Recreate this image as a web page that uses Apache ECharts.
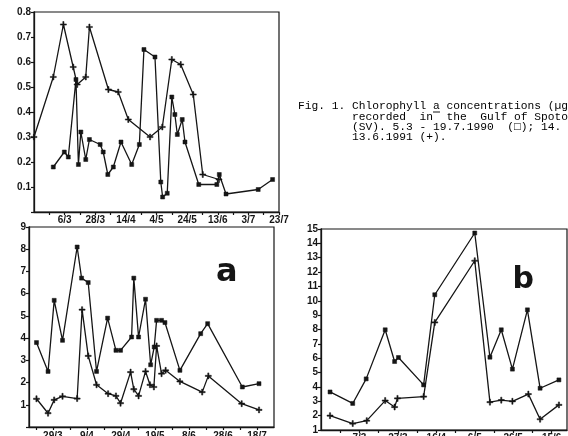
<!DOCTYPE html>
<html>
<head>
<meta charset="utf-8">
<script src="https://cdn.jsdelivr.net/npm/echarts@6/dist/echarts.min.js"></script>
<style>
html,body{margin:0;padding:0;background:#fff;}
#chart{width:568px;height:436px;}
</style>
</head>
<body>
<div id="chart"></div>
<script>
// ---- top panel (chlorophyll a, µg/l) ----
const topTickDays = [65, 85, 105, 125, 145, 165, 185, 205];
const topTickLabels = ['6/3', '28/3', '14/4', '4/5', '24/5', '13/6', '3/7', '23/7'];
const topSqDays = [57.6, 64.8, 67.4, 72.4, 74, 75.6, 78.8, 81.2, 88.2, 90.2, 93.2, 96.8, 101.8, 108.8, 113.8, 116.8, 124, 127.8, 129, 132, 135, 137, 138.6, 141.8, 143.6, 152.6, 164.4, 166, 170.4, 191.4, 200.8];
const topSqChl = [0.18, 0.24, 0.22, 0.53, 0.19, 0.32, 0.21, 0.29, 0.27, 0.24, 0.15, 0.18, 0.28, 0.19, 0.27, 0.65, 0.62, 0.12, 0.06, 0.075, 0.46, 0.39, 0.31, 0.37, 0.28, 0.11, 0.11, 0.15, 0.072, 0.09, 0.13];
const topPlusDays = [45, 57.6, 64.2, 70.6, 73.2, 78.8, 81.2, 93.6, 100, 106.6, 120.8, 128.8, 135, 140.8, 149, 155.2, 165.8];
const topPlusChl = [0.30, 0.54, 0.75, 0.58, 0.51, 0.54, 0.74, 0.49, 0.48, 0.37, 0.30, 0.34, 0.61, 0.59, 0.47, 0.15, 0.13];

// ---- panel a ----
const aTickDays = [79, 99, 119, 139, 159, 179, 199];
const aTickLabels = ['29/3', '9/4', '29/4', '19/5', '8/6', '28/6', '18/7'];
const aSqDays = [69.4, 76.2, 79.8, 84.7, 93.3, 95.9, 99.8, 104.7, 111.2, 116.1, 118.8, 125.3, 126.6, 129.4, 133.5, 136.5, 138.6, 140, 142.9, 144.9, 153.7, 165.9, 170, 190.4, 200.2];
const aSqVal = [3.8, 2.5, 5.7, 3.9, 8.1, 6.7, 6.5, 2.5, 4.9, 3.45, 3.45, 4.05, 6.7, 4.05, 5.75, 2.8, 3.6, 4.8, 4.8, 4.7, 2.55, 4.2, 4.65, 1.8, 1.95];
const aPlusDays = [69.4, 76.2, 79.8, 84.7, 93.3, 96.2, 99.8, 104.7, 111.5, 116.1, 118.8, 124.7, 126.6, 129.4, 133.5, 136.1, 138.4, 140, 142.9, 145.3, 153.7, 166.8, 170.4, 190, 200.2];
const aPlusVal = [1.27, 0.62, 1.22, 1.38, 1.28, 5.28, 3.2, 1.9, 1.5, 1.4, 1.07, 2.47, 1.7, 1.4, 2.5, 1.9, 1.8, 3.65, 2.4, 2.55, 2.05, 1.57, 2.3, 1.05, 0.77];

// ---- panel b ----
const bTickDays = [66, 86, 106, 126, 146, 166];
const bTickLabels = ['7/3', '27/3', '16/4', '6/5', '26/5', '15/6'];
const bSqDays = [50.7, 62.5, 69.5, 79.4, 84.3, 86.3, 99.4, 105.2, 126, 133.9, 139.8, 145.6, 153.4, 160, 169.8];
const bSqVal = [3.65, 2.85, 4.56, 7.98, 5.77, 6.05, 4.14, 10.42, 14.72, 6.07, 7.98, 5.24, 9.37, 3.91, 4.49];
const bPlusDays = [50.7, 62.5, 69.8, 79.4, 84.3, 85.8, 99.4, 105.2, 126, 133.9, 139.8, 145.6, 153.9, 160, 169.8];
const bPlusVal = [2.0, 1.45, 1.65, 3.05, 2.6, 3.2, 3.33, 8.49, 12.79, 2.94, 3.08, 3.0, 3.5, 1.75, 2.75];

const ink = '#151515';
const plusPath = 'path://M4,0h2v4h4v2h-4v4h-2v-4h-4v-2h4z';
const zip = (xs, ys) => xs.map((x, i) => [x, ys[i]]);
const withMid = (ticks) => {
  const out = [];
  ticks.forEach((t) => { out.push(t - 10); out.push(t); });
  return out;
};

function xAxis(gridIndex, min, max, tickDays, tickLabels, margin) {
  return {
    type: 'value', gridIndex, min, max,
    axisLine: { show: true, lineStyle: { color: ink, width: 1.3 } },
    splitLine: { show: false },
    axisTick: { show: true, inside: false, length: 3, customValues: withMid(tickDays).filter(v => v > min && v <= max), lineStyle: { color: ink, width: 1.2 } },
    axisLabel: {
      show: true, margin, customValues: tickDays, color: ink,
      fontSize: 10, fontWeight: 'bold', fontFamily: 'Liberation Sans',
      formatter: (v) => { const i = tickDays.indexOf(v); return i >= 0 ? tickLabels[i] : ''; }
    }
  };
}
function yAxis(gridIndex, min, max, interval, fmt) {
  return {
    type: 'value', gridIndex, min, max, interval,
    axisLine: { show: true, lineStyle: { color: ink, width: 1.3 } },
    splitLine: { show: false },
    axisTick: { show: true, inside: false, length: 3, lineStyle: { color: ink, width: 1.2 } },
    axisLabel: { show: true, margin: 3, color: ink, fontSize: 10, fontWeight: 'bold', fontFamily: 'Liberation Sans', formatter: fmt }
  };
}
function line(xi, data, sym, size) {
  return {
    type: 'line', xAxisIndex: xi, yAxisIndex: xi, data,
    symbol: sym, symbolSize: size, showSymbol: true, showAllSymbol: true,
    lineStyle: { color: ink, width: 1.3 },
    itemStyle: { color: ink, borderColor: ink, borderWidth: 0.5 },
    emphasis: { disabled: true }, animation: false, z: 3
  };
}

const chart = echarts.init(document.getElementById('chart'), null, { renderer: 'canvas' });
const monoFont = '11.25px "Liberation Mono"';
const gridBase = { show: true, borderColor: ink, borderWidth: 1.2, containLabel: false, outerBoundsMode: 'none' };
chart.setOption({
  animation: false,
  backgroundColor: '#fff',
  grid: [
    Object.assign({ left: 34, top: 12, width: 245, height: 200 }, gridBase),
    Object.assign({ left: 29, top: 227, width: 245, height: 200 }, gridBase),
    Object.assign({ left: 321, top: 229, width: 246, height: 201 }, gridBase)
  ],
  xAxis: [
    xAxis(0, 45, 205, topTickDays, topTickLabels, 3),
    xAxis(1, 65, 209, aTickDays, aTickLabels, 4),
    xAxis(2, 46, 174, bTickDays, bTickLabels, 3)
  ],
  yAxis: [
    yAxis(0, 0, 0.8, 0.1, v => (Math.abs(v) < 1e-9 ? '' : v.toFixed(1))),
    yAxis(1, 0, 9, 1, v => (v === 0 ? '' : String(v))),
    yAxis(2, 1, 15, 1, v => String(v))
  ],
  series: [
    line(0, zip(topSqDays, topSqChl), 'rect', 4),
    line(0, zip(topPlusDays, topPlusChl), plusPath, 6),
    line(1, zip(aSqDays, aSqVal), 'rect', 4),
    line(1, zip(aPlusDays, aPlusVal), plusPath, 6),
    line(2, zip(bSqDays, bSqVal), 'rect', 4),
    line(2, zip(bPlusDays, bPlusVal), plusPath, 6)
  ],
  graphic: [
    { type: 'text', x: 298, y: 106.5, style: { text: 'Fig. 1. Chlorophyll a concentrations (µg', font: monoFont, fill: '#000', verticalAlign: 'middle', textVerticalAlign: 'middle' } },
    { type: 'line', shape: { x1: 433, y1: 112, x2: 440, y2: 112 }, style: { stroke: ink, lineWidth: 1 } },
    { type: 'text', x: 352, y: 116.8, style: { text: 'recorded  in  the  Gulf of Spoto', font: monoFont, fill: '#000', verticalAlign: 'middle', textVerticalAlign: 'middle' } },
    { type: 'text', x: 352, y: 127, style: { text: '(SV). 5.3 - 19.7.1990  (□); 14.', font: monoFont, fill: '#000', verticalAlign: 'middle', textVerticalAlign: 'middle' } },
    { type: 'text', x: 352, y: 136.8, style: { text: '13.6.1991 (+).', font: monoFont, fill: '#000', verticalAlign: 'middle', textVerticalAlign: 'middle' } },
    { type: 'text', x: 226.7, y: 273, style: { text: 'a', font: 'bold 32px "DejaVu Sans"', fill: ink, align: 'center', textAlign: 'center', verticalAlign: 'middle', textVerticalAlign: 'middle' } },
    { type: 'text', x: 523.3, y: 280, style: { text: 'b', font: 'bold 30px "DejaVu Sans"', fill: ink, align: 'center', textAlign: 'center', verticalAlign: 'middle', textVerticalAlign: 'middle' } }
  ]
});
</script>
</body>
</html>
